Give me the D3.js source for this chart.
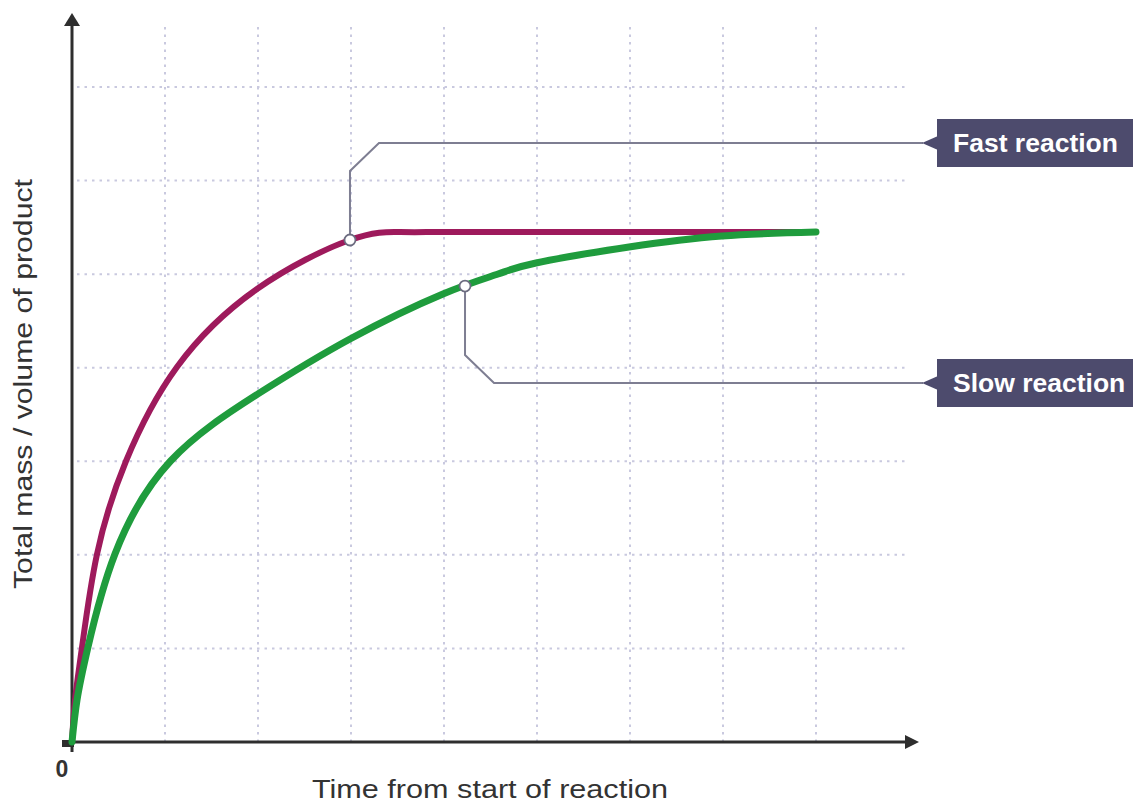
<!DOCTYPE html>
<html>
<head>
<meta charset="utf-8">
<script src="https://cdn.jsdelivr.net/npm/d3@7"></script>
<style>
  html, body { margin: 0; padding: 0; background: #fff; }
  svg { display: block; }
</style>
</head>
<body>
<svg id="chart" width="1133" height="804"></svg>
<script>
// ---- data ----
const fastTime = [0, 0.032, 0.108, 0.269, 0.581, 1.129, 1.989, 2.989, 3.527, 4, 5, 6, 7, 8];
const fastMass = [0, 0.449, 1.015, 2.009, 3.003, 4.008, 4.841, 5.365, 5.450, 5.450, 5.450, 5.450, 5.450, 5.450];
const slowTime = [0, 0.054, 0.172, 0.462, 1.06, 2.0, 2.989, 3.989, 4.581, 4.989, 5.989, 6.989, 8.0];
const slowMass = [0, 0.449, 1.015, 2.009, 3.003, 3.720, 4.307, 4.788, 5.001, 5.119, 5.290, 5.408, 5.450];
const seriesNames = ["Fast reaction", "Slow reaction"];
const markerTime = [2.989, 4.226];
const markerMass = [5.365, 4.873];
const xGridTicks = [1, 2, 3, 4, 5, 6, 7, 8];
const yGridTicks = [1, 2, 3, 4, 5, 6, 7];
const originLabel = "0";
const xTitle = "Time from start of reaction";
const yTitle = "Total mass / volume of product";

// ---- layout ----
const svg = d3.select("#chart");
const x = d3.scaleLinear().domain([0, 9]).range([72, 909]);
const y = d3.scaleLinear().domain([0, 7]).range([742, 87]);

const gridColor = "#c9c9df";
const axisColor = "#2e2e2e";
const leaderColor = "#7e7e92";
const boxColor = "#4d4b6d";
const colors = ["#9e1a5c", "#1f9c3d"];

// grid
const grid = svg.append("g");
grid.selectAll("line.v").data(xGridTicks).enter().append("line")
  .attr("x1", d => x(d)).attr("x2", d => x(d))
  .attr("y1", y(0)).attr("y2", 25)
  .attr("stroke", gridColor).attr("stroke-width", 2)
  .attr("stroke-dasharray", "2.5,5");
grid.selectAll("line.h").data(yGridTicks).enter().append("line")
  .attr("x1", x(0) + 5).attr("x2", x(9) - 2)
  .attr("y1", d => y(d)).attr("y2", d => y(d))
  .attr("stroke", gridColor).attr("stroke-width", 2)
  .attr("stroke-dasharray", "2.5,5");

// axes
const ax = svg.append("g");
ax.append("line").attr("x1", x(0) - 10).attr("x2", 906)
  .attr("y1", y(0)).attr("y2", y(0))
  .attr("stroke", axisColor).attr("stroke-width", 3);
ax.append("line").attr("x1", x(0)).attr("x2", x(0))
  .attr("y1", y(0) + 10).attr("y2", 24)
  .attr("stroke", axisColor).attr("stroke-width", 3);
ax.append("path")
  .attr("d", `M${x(0)},13 L${x(0) - 8},26 L${x(0) + 8},26 Z`)
  .attr("fill", axisColor);
ax.append("path")
  .attr("d", `M919,${y(0)} L905,${y(0) - 7} L905,${y(0) + 7} Z`)
  .attr("fill", axisColor);
ax.append("rect").attr("x", x(0) - 10).attr("y", y(0) - 2)
  .attr("width", 12).attr("height", 7).attr("fill", axisColor);

ax.append("text").attr("x", 62).attr("y", 777)
  .attr("text-anchor", "middle")
  .attr("font-family", "Liberation Sans, Arial, sans-serif")
  .attr("font-weight", "bold").attr("font-size", 23)
  .attr("fill", "#333").text(originLabel);

ax.append("text").attr("x", 490).attr("y", 798)
  .attr("text-anchor", "middle")
  .attr("font-family", "Liberation Sans, Arial, sans-serif")
  .attr("font-size", 26)
  .attr("textLength", 356).attr("lengthAdjust", "spacingAndGlyphs")
  .attr("fill", "#333").text(xTitle);

ax.append("text")
  .attr("transform", "translate(32,384) rotate(-90)")
  .attr("text-anchor", "middle")
  .attr("font-family", "Liberation Sans, Arial, sans-serif")
  .attr("font-size", 26)
  .attr("textLength", 410).attr("lengthAdjust", "spacingAndGlyphs")
  .attr("fill", "#333").text(yTitle);

// curves
const line = d3.line().x(d => x(d[0])).y(d => y(d[1])).curve(d3.curveNatural);
const fastData = fastTime.map((t, i) => [t, fastMass[i]]);
const slowData = slowTime.map((t, i) => [t, slowMass[i]]);
svg.append("path").datum(fastData).attr("d", line)
  .attr("fill", "none").attr("stroke", colors[0]).attr("stroke-width", 6)
  .attr("stroke-linecap", "round");
svg.append("path").datum(slowData).attr("d", line)
  .attr("fill", "none").attr("stroke", colors[1]).attr("stroke-width", 7)
  .attr("stroke-linecap", "round");

// annotations
const boxCenterY = [143, 383];
const ann = svg.append("g");
seriesNames.forEach((name, i) => {
  const px = x(markerTime[i]), py = y(markerMass[i]);
  const by = boxCenterY[i];
  const dir = by < py ? -1 : 1;
  const bendY = by - dir * 28;
  const pts = [[px, py], [px, bendY], [px + 29, by], [923, by]];
  ann.append("path").attr("d", d3.line()(pts))
    .attr("fill", "none").attr("stroke", leaderColor).attr("stroke-width", 2);
  ann.append("path")
    .attr("d", `M922,${by} L938,${by - 7} L938,${by + 7} Z`)
    .attr("fill", boxColor);
  ann.append("rect").attr("x", 937).attr("y", by - 24)
    .attr("width", 196).attr("height", 48).attr("fill", boxColor);
  ann.append("text").attr("x", 953).attr("y", by + 9)
    .attr("font-family", "Liberation Sans, Arial, sans-serif")
    .attr("font-weight", "bold").attr("font-size", 26.5)
    .attr("fill", "#fff").text(name);
  ann.append("circle").attr("cx", px).attr("cy", py).attr("r", 5.5)
    .attr("fill", "#fff").attr("stroke", "#6c6c80").attr("stroke-width", 1.8);
});
</script>
</body>
</html>
